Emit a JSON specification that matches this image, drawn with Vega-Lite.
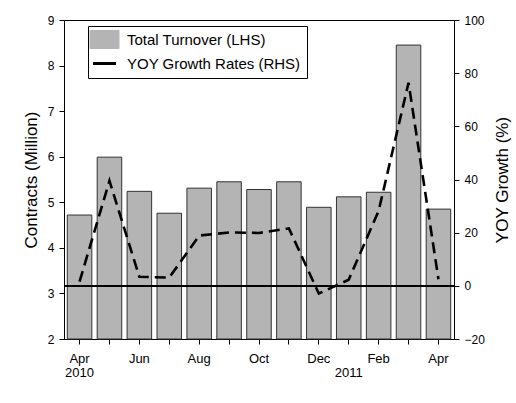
{
  "$schema": "https://vega.github.io/schema/vega-lite/v6.json",
  "width": 390,
  "height": 319,
  "autosize": {"type": "none"},
  "padding": {"left": 64, "top": 20, "right": 62, "bottom": 64},
  "background": "white",
  "config": {
    "font": "Liberation Sans",
    "view": {"stroke": "black", "strokeWidth": 1},
    "axis": {"grid": false, "domainColor": "black", "tickColor": "black", "labelColor": "black", "titleColor": "black", "titleFontWeight": "normal", "tickSize": 5}
  },
  "data": {
    "values": [
      {"month": "Apr 2010", "turnover": 4.72, "yoy": 1.6},
      {"month": "May 2010", "turnover": 5.99, "yoy": 39.5},
      {"month": "Jun 2010", "turnover": 5.24, "yoy": 3.4},
      {"month": "Jul 2010", "turnover": 4.76, "yoy": 3.1},
      {"month": "Aug 2010", "turnover": 5.31, "yoy": 18.9},
      {"month": "Sep 2010", "turnover": 5.45, "yoy": 20.1},
      {"month": "Oct 2010", "turnover": 5.28, "yoy": 19.9},
      {"month": "Nov 2010", "turnover": 5.45, "yoy": 21.6},
      {"month": "Dec 2010", "turnover": 4.89, "yoy": -2.9},
      {"month": "Jan 2011", "turnover": 5.12, "yoy": 2.3},
      {"month": "Feb 2011", "turnover": 5.22, "yoy": 28.2},
      {"month": "Mar 2011", "turnover": 8.45, "yoy": 76.4},
      {"month": "Apr 2011", "turnover": 4.85, "yoy": 2.5}
    ]
  },
  "layer": [
    {
      "mark": {"type": "bar", "stroke": "#333333", "strokeWidth": 1},
      "encoding": {
        "x": {
          "field": "month", "type": "nominal", "sort": null,
          "scale": {"paddingInner": 0.18, "paddingOuter": 0.11},
          "axis": {
            "title": null, "labelAngle": 0, "labelFontSize": 13, "labelPadding": 8,
            "labelOverlap": false, "labelBaseline": "top", "labelLineHeight": 14,
            "labelExpr": "datum.value == 'Apr 2010' ? ['Apr', '2010'] : datum.value == 'Jan 2011' ? ['', '2011'] : indexof(['Jun', 'Aug', 'Oct', 'Dec', 'Feb', 'Apr'], slice(datum.value, 0, 3)) >= 0 ? slice(datum.value, 0, 3) : ''"
          }
        },
        "y": {
          "field": "turnover", "type": "quantitative",
          "scale": {"domain": [2, 9], "nice": false, "zero": false},
          "axis": {"title": "Contracts (Million)", "titleFontSize": 17, "labelFontSize": 12, "values": [2, 3, 4, 5, 6, 7, 8, 9], "labelPadding": 5, "titlePadding": 7}
        },
        "y2": {"datum": 2},
        "color": {
          "datum": "Total Turnover (LHS)",
          "type": "nominal",
          "scale": {"domain": ["Total Turnover (LHS)", "YOY Growth Rates (RHS)"], "range": ["#b4b4b4", "black"]},
          "legend": {
            "orient": "none", "legendX": 24, "legendY": 6, "title": null,
            "symbolSize": 400, "symbolOffset": 3, "labelFontSize": 15, "labelColor": "black", "labelOffset": 15, "labelLimit": 300,
            "strokeColor": "black", "fillColor": "white", "padding": 6, "rowPadding": 5,
            "encode": {
              "symbols": {
                "update": {
                  "shape": {"signal": "datum.value == 'Total Turnover (LHS)' ? 'M-1.45,-0.9H1.45V0.9H-1.45Z' : 'M-1.15,0H1.15'"},
                  "fill": {"signal": "datum.value == 'Total Turnover (LHS)' ? '#b4b4b4' : 'transparent'"},
                  "stroke": {"value": "black"},
                  "strokeWidth": {"signal": "datum.value == 'Total Turnover (LHS)' ? 1 : 3"},
                  "opacity": {"value": 1}
                }
              }
            }
          }
        }
      }
    },
    {
      "mark": {"type": "rule", "color": "black", "strokeWidth": 1},
      "encoding": {
        "y": {"datum": 0, "type": "quantitative", "scale": {"domain": [-20, 100], "nice": false}, "axis": null}
      }
    },
    {
      "mark": {"type": "line", "strokeWidth": 2.6, "strokeDash": [11, 6]},
      "encoding": {
        "x": {"field": "month", "type": "nominal", "sort": null},
        "y": {
          "field": "yoy", "type": "quantitative",
          "scale": {"domain": [-20, 100], "nice": false},
          "axis": {"orient": "right", "title": "YOY Growth (%)", "titleFontSize": 17, "titleAngle": 270, "titleBaseline": "top", "labelFontSize": 12, "values": [-20, 0, 20, 40, 60, 80, 100], "labelPadding": 5, "titlePadding": 10}
        },
        "color": {
          "datum": "YOY Growth Rates (RHS)", "type": "nominal",
          "legend": {
            "orient": "none", "legendX": 24, "legendY": 6, "title": null,
            "symbolSize": 400, "symbolOffset": 3, "labelFontSize": 15, "labelColor": "black", "labelOffset": 15, "labelLimit": 300,
            "strokeColor": "black", "fillColor": "white", "padding": 6, "rowPadding": 5,
            "encode": {
              "symbols": {
                "update": {
                  "shape": {"signal": "datum.value == 'Total Turnover (LHS)' ? 'M-1.45,-0.9H1.45V0.9H-1.45Z' : 'M-1.15,0H1.15'"},
                  "fill": {"signal": "datum.value == 'Total Turnover (LHS)' ? '#b4b4b4' : 'transparent'"},
                  "stroke": {"value": "black"},
                  "strokeWidth": {"signal": "datum.value == 'Total Turnover (LHS)' ? 1 : 3"},
                  "opacity": {"value": 1}
                }
              }
            }
          }
        }
      }
    }
  ],
  "resolve": {"scale": {"y": "independent"}}
}
